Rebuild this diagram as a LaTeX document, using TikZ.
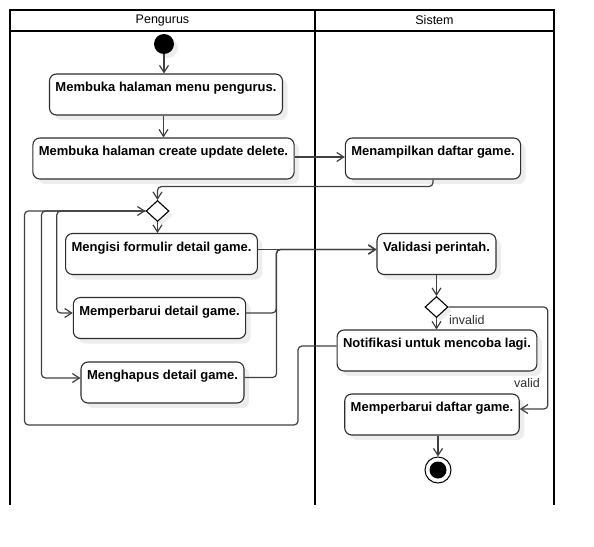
\documentclass[tikz,border=0pt]{standalone}
\usepackage{fontspec}
\setmainfont{Liberation Sans}
\usetikzlibrary{shapes.geometric, arrows.meta, shadows}
\definecolor{edgegray}{RGB}{64, 64, 64}
\definecolor{boxgray}{RGB}{45, 45, 45}

\begin{document}
\begin{tikzpicture}[
  x=1pt, y=-1pt,
  lane/.style={line width=1.6pt, black},
  hdr/.style={font=\fontsize{12.5}{15}\selectfont, inner sep=0pt},
  act/.style={draw=boxgray, line width=1.1pt, fill=white, rounded corners=7pt, inner xsep=6pt, inner ysep=4pt,
    text height=13.5pt, text depth=19.5pt, font=\fontsize{13}{15}\selectfont\bfseries,
    drop shadow={shadow xshift=5pt, shadow yshift=-5pt, fill=black!7, opacity=1}},
  choice/.style={diamond, draw=black, line width=1.1pt, fill=white, minimum width=23pt, minimum height=21pt, inner sep=0pt,
    drop shadow={shadow xshift=4pt, shadow yshift=-4pt, fill=black!7, opacity=1}},
  start/.style={circle, fill=black, minimum size=20pt, inner sep=0pt,
    drop shadow={shadow xshift=4pt, shadow yshift=-4pt, fill=black!7, opacity=1}},
  finish/.style={circle, draw=black, line width=1pt, fill=white, minimum size=26pt, inner sep=0pt,
    path picture={\fill[black] (path picture bounding box.center) circle (8.5pt);}},
  flow/.style={draw=edgegray, line width=1.2pt, rounded corners=4pt, -{Straight Barb[length=7pt, width=9pt]}},
  lbl/.style={font=\fontsize{12.5}{15}\selectfont, text=boxgray, inner sep=1pt}
]
  \useasboundingbox (0,0) rectangle (594,546);

  \draw[lane] (10,505) -- (10,10) -- (554,10) -- (554,505);
  \draw[lane] (10,31) -- (554,31);
  \draw[lane] (315,10) -- (315,505);
  \node[hdr] (hdrA) at (162.5,20.5) {Pengurus};
  \node[hdr] (hdrB) at (434.5,20.5) {Sistem};

  \node[start] (mulai) at (164,44) {};
  \node[act] (menu) at (166,94.5) {Membuka halaman menu pengurus.};
  \node[act] (crud) at (163.5,158.5) {Membuka halaman create update delete.};
  \node[act] (tampil) at (433,158.5) {Menampilkan daftar game.};
  \node[choice] (pilih) at (157.5,211) {};
  \node[act] (isi) at (161.5,254) {Mengisi formulir detail game.};
  \node[act] (ubah) at (159.5,318) {Memperbarui detail game.};
  \node[act] (hapus) at (162.5,382.5) {Menghapus detail game.};
  \node[act] (cek) at (436.5,254) {Validasi perintah.};
  \node[choice] (hasil) at (436.5,307) {};
  \node[act] (notif) at (437,350.5) {Notifikasi untuk mencoba lagi.};
  \node[act] (update) at (432,414.5) {Memperbarui daftar game.};
  \node[finish] (selesai) at (438,470) {};

  \draw[flow] (mulai) -- (mulai |- menu.north);
  \draw[flow] (crud.north |- menu.south) -- (crud.north);
  \draw[flow] ([yshift=1.5pt]crud.east) -- ([yshift=1.5pt]crud.east -| tampil.west);
  \draw[flow] (tampil.south) -- ++(0,7) -| (pilih.north);
  \draw[flow] (pilih.south) -- (pilih.south |- isi.north);
  \draw[flow] (pilih.west) -| ([xshift=-16pt,yshift=5pt]ubah.west) -- ([yshift=5pt]ubah.west);
  \draw[flow] (pilih.west) -| ([xshift=-39pt,yshift=4.5pt]hapus.west) -- ([yshift=4.5pt]hapus.west);
  \draw[flow] ([yshift=4.5pt]notif.west) -| (298,425) -| ([xshift=-121pt]pilih.west) -- (pilih.west);
  \draw[flow] ([yshift=4.5pt]isi.east) -- ([yshift=4.5pt]isi.east -| cek.west);
  \draw[flow] ([yshift=5pt]ubah.east) -- ++(30,0) |- ([yshift=4.5pt]cek.west);
  \draw[flow] ([yshift=5pt]hapus.east) -- ++(32,0) |- ([yshift=4.5pt]cek.west);
  \draw[flow] (hasil.north |- cek.south) -- (hasil.north);
  \draw[flow] (hasil.south) -- (hasil.south |- notif.north)
    node[lbl, pos=0.2, anchor=west, xshift=11pt] (lblInvalid) {invalid};
  \draw[flow] (hasil.east) -| ([xshift=28pt,yshift=5.5pt]update.east) -- ([yshift=5.5pt]update.east);
  \node[lbl] (lblValid) at (527,383) {valid};
  \draw[flow] (selesai.north |- update.south) -- (selesai.north);
\end{tikzpicture}
\end{document}
